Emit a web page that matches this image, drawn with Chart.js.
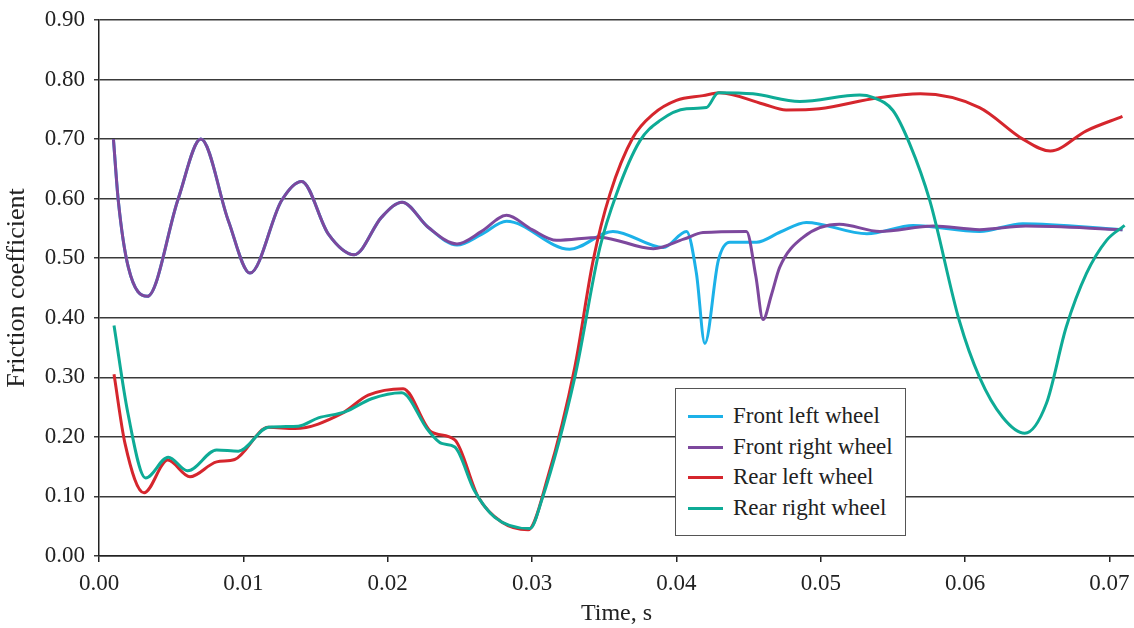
<!DOCTYPE html>
<html>
<head>
<meta charset="utf-8">
<script src="https://cdn.jsdelivr.net/npm/chart.js@4"></script>
<style>
    body { margin: 0; background: #fff; }
    .wrap { position: relative; width: 1134px; height: 628px; }
    .legend {
        position: absolute; left: 675px; top: 388px; width: 231px; height: 148px;
        border: 1.5px solid #555; background: #fff;
        font-family: 'Liberation Serif', 'Times New Roman', serif; font-size: 23px; color: #222;
        padding-top: 12px; box-sizing: border-box;
    }
    .legend div { height: 30.6px; line-height: 30.6px; position: relative; padding-left: 57px; white-space: nowrap; }
    .legend span { position: absolute; left: 12px; top: 14px; width: 35px; height: 3px; }
</style>
</head>
<body>
<div class="wrap">
    <canvas id="frictionChart"></canvas>
    <div class="legend">
        <div><span style="background:#1cb1e8"></span>Front left wheel</div>
        <div><span style="background:#7d489d"></span>Front right wheel</div>
        <div><span style="background:#d5262d"></span>Rear left wheel</div>
        <div><span style="background:#0eab96"></span>Rear right wheel</div>
    </div>
</div>
<script>
// time in seconds
const xTicks = [0, 0.01, 0.02, 0.03, 0.04, 0.05, 0.06, 0.07];
const yTicks = [0, 0.1, 0.2, 0.3, 0.4, 0.5, 0.6, 0.7, 0.8, 0.9];

const frontRightTime = [0.0010, 0.00134, 0.00203, 0.00335, 0.00549, 0.00706, 0.00896, 0.01046, 0.01265, 0.01404,
    0.01588, 0.01768, 0.01958, 0.0210, 0.0228, 0.0248, 0.0265, 0.02823, 0.0300, 0.0317, 0.0347, 0.0384, 0.0405,
    0.04185, 0.04485, 0.0455, 0.0460, 0.0466, 0.04716, 0.04877, 0.0513, 0.0541, 0.0578, 0.0610, 0.0642, 0.0709];
const frontRightValue = [0.700, 0.596, 0.485, 0.436, 0.600, 0.700, 0.563, 0.475, 0.597, 0.629,
    0.541, 0.506, 0.569, 0.594, 0.552, 0.524, 0.545, 0.572, 0.548, 0.530, 0.535, 0.516, 0.532,
    0.543, 0.545, 0.470, 0.397, 0.440, 0.485, 0.535, 0.557, 0.545, 0.554, 0.548, 0.554, 0.548];

const frontLeftTime = [0.0010, 0.00134, 0.00203, 0.00335, 0.00549, 0.00706, 0.00896, 0.01046, 0.01265, 0.01404,
    0.01588, 0.01768, 0.01958, 0.0210, 0.0228, 0.0248, 0.0265, 0.02823, 0.0326, 0.0356, 0.0391, 0.0407,
    0.04139, 0.04197, 0.0429, 0.0437, 0.04555, 0.0472, 0.0490, 0.0532, 0.0564, 0.0610, 0.0640, 0.0709];
const frontLeftValue = [0.700, 0.596, 0.485, 0.436, 0.600, 0.700, 0.563, 0.475, 0.597, 0.629,
    0.541, 0.506, 0.569, 0.594, 0.552, 0.522, 0.540, 0.562, 0.515, 0.545, 0.518, 0.545,
    0.474, 0.357, 0.496, 0.527, 0.527, 0.544, 0.560, 0.541, 0.555, 0.545, 0.558, 0.548];

const rearLeftTime = [0.00104, 0.0018, 0.00312, 0.00476, 0.0063, 0.00815, 0.0094, 0.01173, 0.01357, 0.0168,
    0.01865, 0.02107, 0.02304, 0.02465, 0.02627, 0.02789, 0.02973, 0.0311, 0.03296, 0.03423, 0.0354, 0.0370,
    0.03839, 0.0400, 0.04185, 0.0430, 0.0460, 0.0476, 0.0499, 0.0539, 0.0569, 0.0610, 0.0640, 0.0659,
    0.0684, 0.0709];
const rearLeftValue = [0.305, 0.189, 0.106, 0.161, 0.133, 0.158, 0.162, 0.216, 0.214, 0.239,
    0.270, 0.281, 0.208, 0.195, 0.099, 0.057, 0.044, 0.133, 0.317, 0.496, 0.608, 0.703,
    0.742, 0.765, 0.773, 0.778, 0.759, 0.749, 0.751, 0.769, 0.776, 0.753, 0.700, 0.680,
    0.714, 0.738];

const rearRightTime = [0.00104, 0.0020, 0.00323, 0.0048, 0.00614, 0.00815, 0.00965, 0.01173, 0.0138, 0.0152,
    0.01704, 0.01888, 0.02096, 0.0228, 0.02373, 0.02465, 0.0260, 0.02742, 0.02985, 0.03066, 0.03296, 0.0347,
    0.03585, 0.03747, 0.03885, 0.0407, 0.04208, 0.0429, 0.0453, 0.04855, 0.0527, 0.0536, 0.0550, 0.05616,
    0.05755, 0.0596, 0.0610, 0.0626, 0.06413, 0.06563, 0.0670, 0.0684, 0.0698, 0.07105];
const rearRightValue = [0.387, 0.240, 0.131, 0.166, 0.143, 0.178, 0.176, 0.216, 0.218, 0.232,
    0.242, 0.264, 0.274, 0.211, 0.189, 0.183, 0.110, 0.065, 0.046, 0.093, 0.300, 0.518,
    0.608, 0.697, 0.731, 0.751, 0.753, 0.778, 0.776, 0.763, 0.774, 0.770, 0.748, 0.692,
    0.597, 0.395, 0.300, 0.233, 0.206, 0.256, 0.384, 0.474, 0.530, 0.555];

const serif = "'Liberation Serif', 'Times New Roman', serif";

function toPoints(times, values) {
    return times.map((t, i) => ({ x: t, y: values[i] }));
}

function line(label, times, values, color, order) {
    return {
        label: label,
        data: toPoints(times, values),
        borderColor: color,
        backgroundColor: color,
        borderWidth: 3,
        pointRadius: 0,
        fill: false,
        cubicInterpolationMode: 'monotone',
        order: order
    };
}

new Chart(document.getElementById('frictionChart'), {
    type: 'line',
    data: {
        datasets: [
            line('Front left wheel', frontLeftTime, frontLeftValue, '#1cb1e8', 3),
            line('Front right wheel', frontRightTime, frontRightValue, '#7d489d', 2),
            line('Rear left wheel', rearLeftTime, rearLeftValue, '#d5262d', 1),
            line('Rear right wheel', rearRightTime, rearRightValue, '#0eab96', 0)
        ]
    },
    options: {
        responsive: true,
        maintainAspectRatio: false,
        animation: false,
        layout: { padding: { top: 20, right: 0, left: 0, bottom: 0 } },
        plugins: {
            legend: { display: false },
            tooltip: { enabled: false }
        },
        scales: {
            x: {
                type: 'linear',
                min: 0,
                max: 0.0717,
                afterFit: scale => {
                    scale.height = 72;
                    scale.paddingLeft = 0;
                    scale.paddingRight = 0;
                },
                afterBuildTicks: scale => { scale.ticks = xTicks.map(v => ({ value: v })); },
                ticks: {
                    stepSize: 0.01,
                    includeBounds: false,
                    maxRotation: 0,
                    padding: 8,
                    color: '#222',
                    font: { family: serif, size: 23 },
                    callback: v => v.toFixed(2)
                },
                grid: { drawOnChartArea: false, drawTicks: true, tickLength: 6, color: '#222', lineWidth: 1.5 },
                border: { color: '#222', width: 1.5 },
                title: {
                    display: true,
                    text: 'Time, s',
                    color: '#222',
                    font: { family: serif, size: 24 },
                    padding: { top: 0, bottom: 0 }
                }
            },
            y: {
                min: 0,
                max: 0.9,
                afterFit: scale => {
                    scale.width = 99;
                    scale.paddingTop = 0;
                    scale.paddingBottom = 0;
                },
                afterBuildTicks: scale => { scale.ticks = yTicks.map(v => ({ value: v })); },
                ticks: {
                    stepSize: 0.1,
                    padding: 9,
                    color: '#222',
                    font: { family: serif, size: 23 },
                    callback: v => v.toFixed(2)
                },
                grid: { color: '#3a3a3a', lineWidth: 1.5, tickLength: 5 },
                border: { color: '#222', width: 1.5 },
                title: {
                    display: true,
                    text: 'Friction coefficient',
                    color: '#222',
                    font: { family: serif, size: 26 },
                    padding: { top: 2, bottom: 0 }
                }
            }
        }
    }
});
</script>
</body>
</html>
